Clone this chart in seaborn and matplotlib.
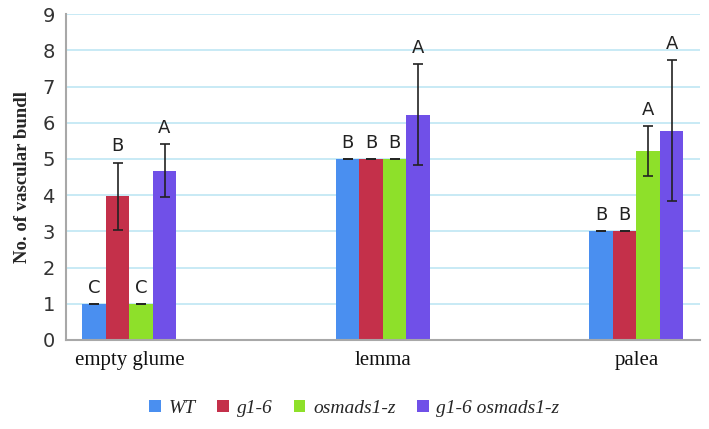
import pandas as pd
import matplotlib.pyplot as plt
import seaborn as sns

# Vascular bundle counts per organ and genotype
organs = ["empty glume", "lemma", "palea"]
genotypes = ["WT", "g1-6", "osmads1-z", "g1-6 osmads1-z"]
wt = [1.0, 5.0, 3.0]
g16 = [3.97, 5.0, 3.0]
osmads = [1.0, 5.0, 5.22]
double = [4.68, 6.22, 5.78]
wt_err = [0.0, 0.0, 0.0]
g16_err = [0.93, 0.0, 0.0]
osmads_err = [0.0, 0.0, 0.69]
double_err = [0.73, 1.40, 1.94]
letters_wt = ["C", "B", "B"]
letters_g16 = ["B", "B", "B"]
letters_osmads = ["C", "B", "A"]
letters_double = ["A", "A", "A"]

colors = ["#4a8ff0", "#c4304a", "#8ee02a", "#7050e8"]

rows = []
for g, vals, errs, labs in zip(genotypes, [wt, g16, osmads, double],
                               [wt_err, g16_err, osmads_err, double_err],
                               [letters_wt, letters_g16, letters_osmads, letters_double]):
    for o, v, e, l in zip(organs, vals, errs, labs):
        rows.append({"organ": o, "genotype": g, "value": v, "err": e, "letter": l})
df = pd.DataFrame(rows)

sns.set_style("white")
fig = plt.figure(figsize=(7.09, 4.29), dpi=100)
ax = fig.add_axes([0.093, 0.2075, 0.894, 0.7595])

sns.barplot(data=df, x="organ", y="value", hue="genotype", order=organs,
            hue_order=genotypes, palette=colors, width=0.37, gap=0,
            errorbar=None, saturation=1, linewidth=0, legend=True, ax=ax)

# error bars and significance letters, placed on the drawn bars
for i, g in enumerate(genotypes):
    cont = ax.containers[i]
    sub = df[df["genotype"] == g].set_index("organ").loc[organs]
    for bar, (_, r) in zip(cont, sub.iterrows()):
        xc = bar.get_x() + bar.get_width() / 2
        h = bar.get_height()
        ax.errorbar(xc, h, yerr=r["err"], color="#222222", lw=1.2,
                    capsize=3.5, capthick=1.2, zorder=4)
        ax.text(xc, h + r["err"] + 0.2, r["letter"], ha="center", va="bottom",
                fontsize=13, family="DejaVu Sans", color="#222222")

ax.set_xlim(-0.25, 2.25)
ax.set_ylim(0, 9)
ax.set_yticks(range(0, 10))
ax.yaxis.grid(True, color="#bfe6f4", lw=1.2)
ax.set_axisbelow(True)
for s in ["top", "right"]:
    ax.spines[s].set_visible(False)
for s in ["left", "bottom"]:
    ax.spines[s].set_color("#a8a8a8")
    ax.spines[s].set_linewidth(1.5)
ax.tick_params(axis="y", labelsize=14, colors="#333333", length=0, pad=8)
ax.tick_params(axis="x", length=0, pad=8)
for t in ax.get_xticklabels():
    t.set_fontfamily("Liberation Serif")
    t.set_fontsize(15)
    t.set_color("#111111")
ax.set_xlabel("")
ax.set_ylabel("No. of vascular bundl", fontsize=13.5, fontweight="bold",
              family="Liberation Serif", labelpad=8)

leg = ax.legend(loc="upper center", bbox_to_anchor=(0.455, -0.13), ncol=4,
                frameon=False, handlelength=0.6, handleheight=0.6,
                handletextpad=0.4, columnspacing=1.1,
                prop={"family": "Liberation Serif", "style": "italic", "size": 14})

plt.savefig("out.png", dpi=100)
